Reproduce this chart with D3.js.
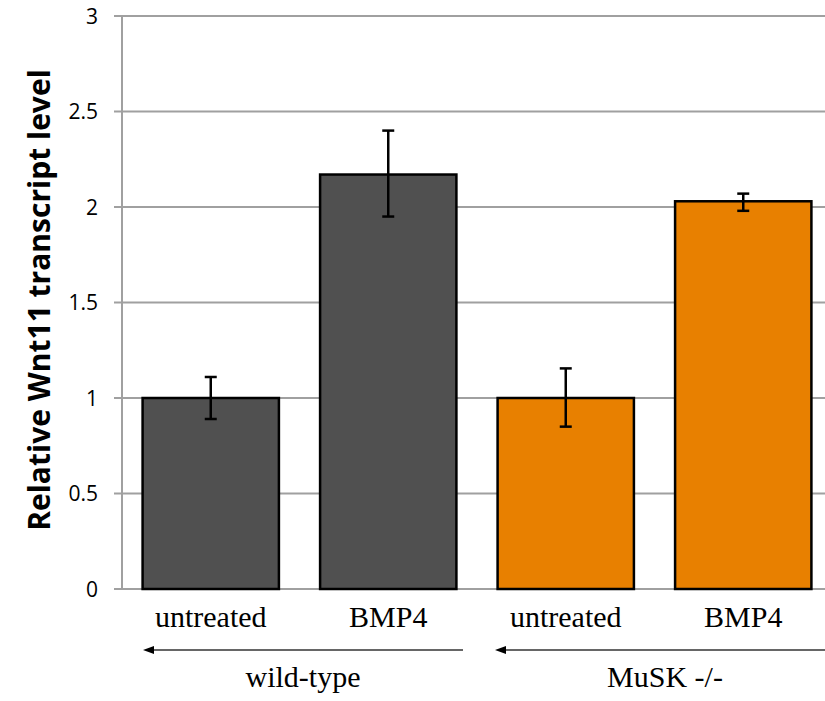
<!DOCTYPE html>
<html><head><meta charset="utf-8">
<script src="https://cdn.jsdelivr.net/npm/d3@7"></script>
<style>body{margin:0;background:#fff}</style>
</head><body>
<svg id="c" width="825" height="701"></svg>
<script>
const categories = ["untreated", "BMP4", "untreated", "BMP4"];
const groups = ["wild-type", "wild-type", "MuSK -/-", "MuSK -/-"];
const values = [1.0, 2.17, 1.0, 2.03];
const errLow = [0.89, 1.95, 0.85, 1.98];
const errHigh = [1.11, 2.40, 1.155, 2.07];
const colors = ["#505050", "#505050", "#E88000", "#E88000"];
const groupNames = ["wild-type", "MuSK -/-"];
const yTicks = [0, 0.5, 1, 1.5, 2, 2.5, 3];

(function () {
const svg = d3.select("#c");
const pL = 122, pR = 832, pT = 16, pB = 589;
const y = d3.scaleLinear().domain([0, 3]).range([pB, pT]);
const x = d3.scaleBand().domain(d3.range(4)).range([pL, pR]).paddingInner(0.232).paddingOuter(0.116);

// gridlines
svg.append("g").selectAll("line").data(yTicks).join("line")
  .attr("x1", pL - 8).attr("x2", 825)
  .attr("y1", d => y(d)).attr("y2", d => y(d))
  .attr("stroke", "#a0a0a0").attr("stroke-width", 2);
// y axis line
svg.append("line").attr("x1", pL).attr("x2", pL).attr("y1", pT).attr("y2", pB)
  .attr("stroke", "#a0a0a0").attr("stroke-width", 2);
// tick labels
svg.append("g").selectAll("text").data(yTicks).join("text")
  .attr("x", 98).attr("y", d => y(d)).attr("dy", "0.36em")
  .attr("text-anchor", "end").attr("font-family", "Open Sans, sans-serif")
  .attr("font-size", 21).attr("fill", "#000").text(d => d3.format("")(d));

// bars
svg.append("g").selectAll("rect").data(values).join("rect")
  .attr("x", (d, i) => x(i)).attr("width", x.bandwidth())
  .attr("y", d => y(d)).attr("height", d => y(0) - y(d))
  .attr("fill", (d, i) => colors[i]).attr("stroke", "#000").attr("stroke-width", 2.5);

// error bars
const eb = svg.append("g").attr("stroke", "#000").attr("stroke-width", 2.5);
values.forEach((v, i) => {
  const cx = x(i) + x.bandwidth() / 2;
  eb.append("line").attr("x1", cx).attr("x2", cx).attr("y1", y(errLow[i])).attr("y2", y(errHigh[i]));
  eb.append("line").attr("x1", cx - 6).attr("x2", cx + 6).attr("y1", y(errLow[i])).attr("y2", y(errLow[i]));
  eb.append("line").attr("x1", cx - 6).attr("x2", cx + 6).attr("y1", y(errHigh[i])).attr("y2", y(errHigh[i]));
});

// category labels
svg.append("g").selectAll("text").data(categories).join("text")
  .attr("x", (d, i) => x(i) + x.bandwidth() / 2).attr("y", 627)
  .attr("text-anchor", "middle").attr("font-family", "Liberation Serif, Times New Roman, serif")
  .attr("font-size", 30).attr("fill", "#000").text(d => d);

// arrows + group labels
const gpos = [[143, 463], [495, 835]];
groupNames.forEach((g, k) => {
  svg.append("line").attr("x1", gpos[k][0] + 10).attr("x2", gpos[k][1]).attr("y1", 650).attr("y2", 650)
    .attr("stroke", "#333").attr("stroke-width", 1.5);
  svg.append("path").attr("d", `M${gpos[k][0]},650 L${gpos[k][0] + 11},646 L${gpos[k][0] + 11},654 Z`).attr("fill", "#000");
  const cx = (gpos[k][0] + gpos[k][1]) / 2;
  svg.append("text").attr("x", cx).attr("y", 687).attr("text-anchor", "middle")
    .attr("font-family", "Liberation Serif, Times New Roman, serif").attr("font-size", 30).text(g);
});

// y axis title
svg.append("text").attr("transform", `translate(50,300) rotate(-90)`)
  .attr("text-anchor", "middle").attr("font-family", "Open Sans, sans-serif")
  .attr("font-weight", "bold").attr("font-size", 30).text("Relative Wnt11 transcript level");
})();
</script>
</body></html>
